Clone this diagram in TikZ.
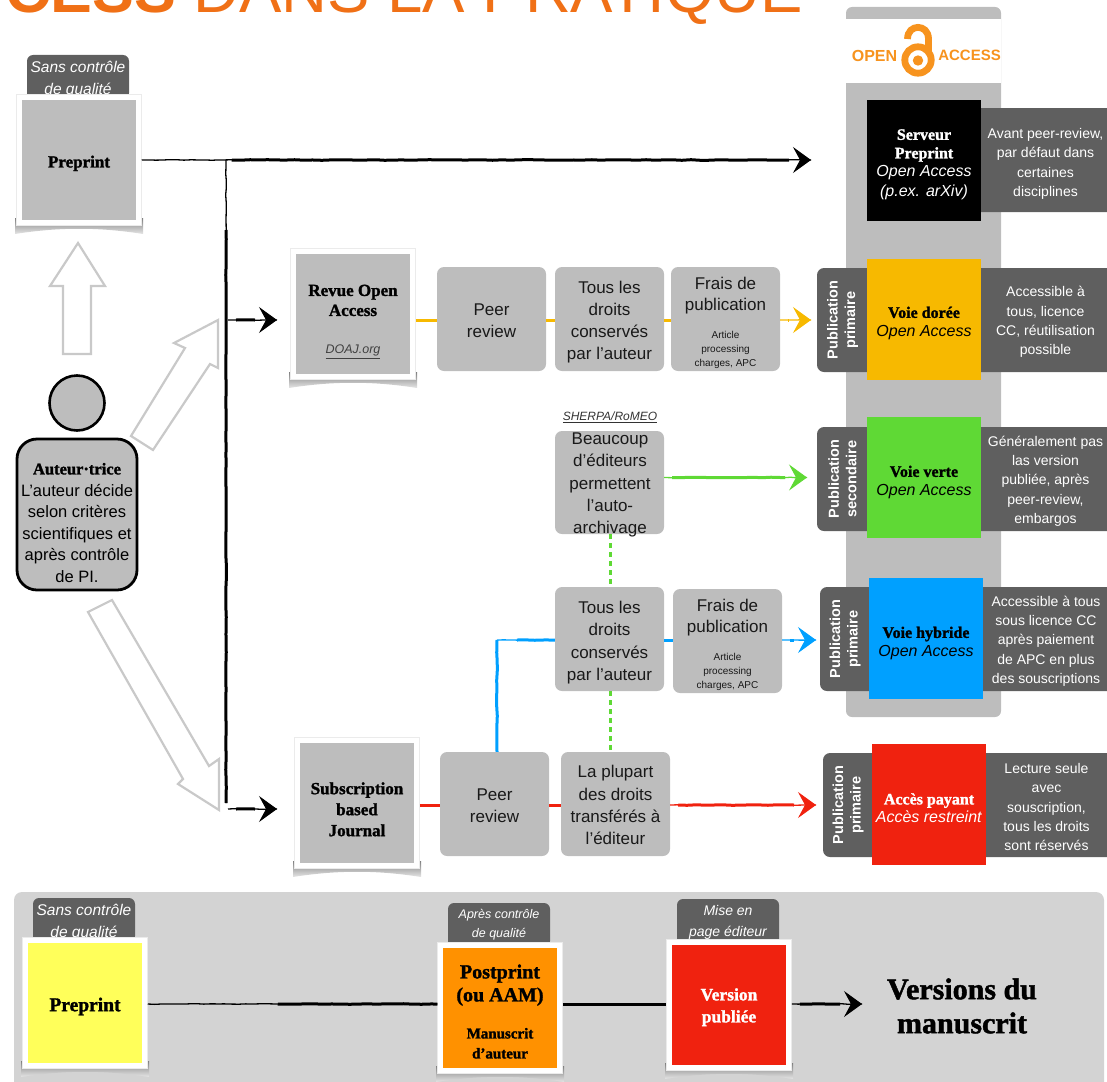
\documentclass[tikz,border=0pt]{standalone}
\usepackage{fontspec}
\usetikzlibrary{arrows.meta,decorations.pathmorphing,calc}
\setmainfont{Liberation Sans}
\newfontfamily\hdfont[FakeBold=1.5]{Liberation Serif Bold}
\newcommand\fs[2]{\fontsize{#1}{#2}\selectfont}
\newcommand\hb[1]{{\hdfont #1}}
\newcommand\dn[1]{\rule{0pt}{\dimexpr 12.5pt+2\dimexpr #1pt\relax\relax}}
\definecolor{panelgray}{HTML}{BDBDBD}
\definecolor{darktab}{HTML}{5F5F5F}
\definecolor{bandgray}{HTML}{D3D3D3}
\definecolor{titleor}{HTML}{F07016}
\definecolor{oaor}{HTML}{F7931E}
\definecolor{goldc}{HTML}{F7B900}
\definecolor{greenc}{HTML}{5FD935}
\definecolor{bluec}{HTML}{00A0FF}
\definecolor{redc}{HTML}{F0220F}
\definecolor{yellowc}{HTML}{FFFF5A}
\definecolor{orangec}{HTML}{FF9100}
\definecolor{hollow}{HTML}{C9C9C9}
\newcommand\mybx[7]{\node[#2,minimum width={(#5)*1pt-(#3)*1pt},minimum height={(#6)*1pt-(#4)*1pt},inner sep=0pt] (#1) at ({(#3+#5)/2},{(#4+#6)/2}) {#7};}
% name, inner x1 y1 x2 y2, colour, text
\newcommand\polar[7]{%
  \shade[top color=black!50,bottom color=black!10] ({#2-7},{#5-2}) -- ({#4+7},{#5-2}) -- ({#4+7},{#5+14}) .. controls ({(#2+#4)/2+20},{#5+7}) and ({(#2+#4)/2-20},{#5+7}) .. ({#2-7},{#5+14}) -- cycle;
  \mybx{#1}{framebox}{#2-5.5}{#3-5.5}{#4+5.5}{#5+5.5}{}
  \mybx{#1-in}{innerbox,fill=#6}{#2}{#3}{#4}{#5}{#7}}
\newcommand\connector[3]{\draw[brushshort=#1] #2 -- #3;}
% colour, start, end, thin lead-in length, thin tail length
\newcommand\taper[5]{%
  \draw[brushthin=#1] #2 -- #3;
  \draw[brushthick=#1] ($#2!#4pt!#3$) -- ($#3!#5pt!#2$);}
\newcommand\arrowto[3]{%
  \taper{#1}{#2}{#3}{8}{22}
  \draw[tiphead=#1] ($#3+(-8,0)$) -- #3;}
\tikzset{
  x=1pt,y=-1pt,
  procbox/.style={fill=panelgray,rounded corners=7pt,align=center,font=\fs{17}{22.2},text=black!90},
  framebox/.style={fill=white,draw=black!8,line width=.5pt},
  innerbox/.style={align=center,font=\fs{17}{20}},
  tagbox/.style={fill=darktab,rounded corners=6pt,align=center,text=white,font=\fs{15.5}{22}\itshape},
  lefttab/.style={fill=darktab,rounded corners=7pt},
  righttab/.style={fill=darktab,rounded corners=5pt,align=center,text=white,font=\fs{14}{19.3}},
  oabox/.style={align=center,font=\fs{16}{18.5}},
  sidelabel/.style={rotate=90,align=center,text=white,font=\fs{14.5}{17.5}\bfseries,inner sep=0pt},
  hollowarrow/.style={draw=hollow,fill=white,line width=2.2pt,line join=miter},
  brushthin/.style={draw=#1,line width=1.3pt,decorate,decoration={random steps,segment length=7pt,amplitude=.35pt}},
  brushthick/.style={draw=#1,line width=3pt,decorate,decoration={random steps,segment length=9pt,amplitude=.3pt}},
  brushshort/.style={draw=#1,line width=3pt},
  tiphead/.style={draw=#1,line width=1pt,-{Stealth[length=18pt,width=26pt,inset=7pt,fill=#1]}},
  dotgreen/.style={draw=greenc,line width=3pt,dash pattern=on 5pt off 4pt},
}
\begin{document}
\begin{tikzpicture}
\useasboundingbox (0,0) rectangle (1107,1081);
\clip (0,0) rectangle (1107,1081);
\pgfmathsetseed{7}
% title
\node[anchor=base west,inner sep=0pt,text=titleor,font=\fs{62.7}{70}] (title) at (5,13) {\textbf{CESS} \fs{63.5}{70}DANS LA PRATIQUE};
% OA panel
\mybx{panel}{fill=panelgray,rounded corners=6pt}{846}{7}{1001}{717}{}
\mybx{band}{fill=white}{846}{19}{1001}{83}{}
\node[text=oaor,font=\fs{16}{18}\bfseries,inner sep=0pt] (oaopen) at (874.5,55.5) {OPEN};
\node[text=oaor,font=\fs{15}{18}\bfseries,inner sep=0pt] (oaaccess) at (969.5,55.5) {ACCESS};
\draw[oaor,line width=6.8pt] (918,60) circle[radius=13.2];
\fill[oaor] (918,60.5) circle[radius=5.2];
\draw[oaor,line width=6.8pt] (907.5,39) .. controls (907.5,23.5) and (928.5,23.5) .. (928.5,39) -- (928.5,52);
% right and left tabs
\mybx{rt0}{righttab}{960}{108}{1115}{212}{}
\mybx{rt1}{righttab}{960}{268}{1115}{372}{}
\mybx{rt2}{righttab}{960}{427}{1115}{531}{}
\mybx{rt3}{righttab}{960}{587}{1115}{691}{}
\mybx{rt4}{righttab}{960}{753}{1115}{857}{}
\mybx{lt1}{lefttab}{817}{268}{890}{372}{}
\mybx{lt2}{lefttab}{817}{427}{890}{531}{}
\mybx{lt3}{lefttab}{820}{587}{890}{691}{}
\mybx{lt4}{lefttab}{823}{753}{890}{857}{}
\node[sidelabel] (sl1) at (842.5,320) {Publication\\primaire};
\node[sidelabel] (sl2) at (842.5,479) {Publication\\secondaire};
\node[sidelabel] (sl3) at (845,639) {Publication\\primaire};
\node[sidelabel] (sl4) at (848,805) {Publication\\primaire};
\node[righttab,fill=none,inner sep=0pt] (rtx0) at (1045.5,164) {Avant peer-review,\\par défaut dans\\certaines\\disciplines};
\node[righttab,fill=none,inner sep=0pt] (rtx1) at (1045.5,322) {Accessible à\\tous, licence\\CC, réutilisation\\possible};
\node[righttab,fill=none,inner sep=0pt] (rtx2) at (1045.5,481) {Généralement pas\\las version\\publiée, après\\peer-review,\\embargos};
\node[righttab,fill=none,inner sep=0pt] (rtx3) at (1046,641) {Accessible à tous\\sous licence CC\\après paiement\\de APC en plus\\des souscriptions};
\node[righttab,fill=none,inner sep=0pt] (rtx4) at (1046.5,807) {Lecture seule\\avec\\souscription,\\tous les droits\\sont réservés};
% OA coloured boxes
\mybx{srv}{oabox,fill=black,text=white}{867}{100}{981}{221}{\dn{3}\hb{Serveur}\\\hb{Preprint}\\\textit{Open Access}\\[1pt]\textit{(p.ex. arXiv)}}
\mybx{dor}{oabox,fill=goldc}{867}{259}{981}{380}{\dn{3}\hb{Voie dorée}\\\textit{Open Access}}
\mybx{ver}{oabox,fill=greenc}{867}{417}{981}{538}{\dn{4}\hb{Voie verte}\\\textit{Open Access}}
\mybx{hyb}{oabox,fill=bluec}{869}{578}{983}{699}{\dn{4}\hb{Voie hybride}\\\textit{Open Access}}
\mybx{pay}{oabox,fill=redc,text=white}{872}{744}{986}{865}{\dn{3}\hb{Accès payant}\\\textit{Accès restreint}}
% top left preprint
\mybx{tag1}{tagbox}{27}{55}{129}{99}{\dn{2}Sans contrôle\\de qualité}
\polar{prep}{22}{100}{136}{220}{panelgray}{\dn{3}\hb{Preprint}}
% hollow arrows
\draw[hollowarrow] (63,354) -- (63,286) -- (50,286) -- (78,243) -- (105,286) -- (91,286) -- (91,354) -- cycle;
\draw[hollowarrow] (218,320) -- (174,343) -- (185,348) -- (131,436) -- (153,450) -- (210,364) -- (218,368) -- cycle;
\draw[hollowarrow] (88,612) -- (112,600) -- (209,766) -- (219,759) -- (219,810) -- (178,784) -- (183,779) -- cycle;
% author
\node[draw=black,fill=panelgray,line width=2.6pt,circle,minimum size=55pt,inner sep=0pt] (head) at (77,403) {};
\mybx{author}{draw=black,fill=panelgray,line width=2.8pt,rounded corners=20pt,align=center,font=\fs{16.5}{21.6}}{17}{439}{137}{590}{\rule{0pt}{28pt}\hb{Auteur·trice}\\L’auteur décide\\selon critères\\scientifiques et\\après contrôle\\de PI.}
% journals
\polar{revue}{296}{254}{410}{374}{panelgray}{\dn{7}\hb{Revue Open}\\\hb{Access}\\[18pt]\fs{12.5}{14}\textcolor{black!75}{\textit{\underline{DOAJ.org}}}}
\polar{subs}{300}{743}{414}{863}{panelgray}{\dn{6}\hb{Subscription}\\[1pt]\hb{based}\\[1pt]\hb{Journal}}
% process boxes
\mybx{peerA}{procbox}{437}{267}{546}{371}{\dn{1.5}Peer\\review}
\mybx{droitA}{procbox}{555}{267}{664}{371}{\dn{3}Tous les\\droits\\conservés\\par l’auteur}
\mybx{fraisA}{procbox}{671}{267}{780}{371}{\dn{3.5}Frais de\\[-.5pt]publication\\[6pt]\fs{10}{13.5}Article\\[-8.5pt]\fs{10}{13.5}processing\\[-8.5pt]\fs{10}{13.5}charges, APC}
\mybx{beau}{fill=panelgray,rounded corners=7pt}{555}{431}{664}{534}{}
\node[procbox,fill=none,inner sep=0pt] (beautext) at (610,485) {Beaucoup\\d’éditeurs\\permettent\\l’auto-\\archivage};
\node[font=\fs{12}{14}\itshape,text=black!80,inner sep=0pt] (sherpa) at (610,417) {\underline{SHERPA/RoMEO}};
\mybx{droitB}{procbox}{555}{587}{664}{691}{\dn{3.5}Tous les\\droits\\conservés\\par l’auteur}
\mybx{fraisB}{procbox}{673}{589}{782}{693}{\dn{3.5}Frais de\\[-.5pt]publication\\[6pt]\fs{10}{13.5}Article\\[-8.5pt]\fs{10}{13.5}processing\\[-8.5pt]\fs{10}{13.5}charges, APC}
\mybx{peerB}{procbox}{440}{752}{549}{856}{\dn{1}Peer\\review}
\mybx{plup}{procbox}{561}{752}{670}{856}{\dn{1}La plupart\\des droits\\transférés à\\l’éditeur}
% connector rails and free ends
\coordinate (yP) at (0,160);
\coordinate (yG) at (0,320);
\coordinate (yV) at (0,477.5);
\coordinate (yB) at (0,640);
\coordinate (yR) at (0,805);
\coordinate (yM) at (0,1004);
\coordinate (xD) at (610,0);
\coordinate (xB) at (497,0);
\coordinate (endP) at (811,160);
\coordinate (endG) at (811,320);
\coordinate (endV) at (807,477.5);
\coordinate (endB) at (816,640);
\coordinate (endR) at (816,805);
\coordinate (endM) at (862,1004);
\coordinate (vtop) at (226,160);
\coordinate (vbot) at (226,803);
\coordinate (vr1) at (228,320);
\coordinate (vr2) at (228,809);
\coordinate (end1) at (277,320);
\coordinate (end2) at (277,809);
\coordinate (bendB) at (497,640);
% black
\taper{black}{(prep.east |- yP)}{(endP)}{90}{22}
\draw[tiphead=black] ($(endP)+(-8,0)$) -- (endP);
\taper{black}{(vtop)}{(vbot)}{70}{0}
\arrowto{black}{(vr1)}{(end1)}
\arrowto{black}{(vr2)}{(end2)}
% gold
\connector{goldc}{(revue.east |- yG)}{(peerA.west |- yG)}
\connector{goldc}{(peerA.east |- yG)}{(droitA.west |- yG)}
\connector{goldc}{(droitA.east |- yG)}{(fraisA.west |- yG)}
\arrowto{goldc}{(fraisA.east |- yG)}{(endG)}
% green
\arrowto{greenc}{(beau.east |- yV)}{(endV)}
\draw[dotgreen] (beau.south -| xD) -- (droitB.north -| xD);
\draw[dotgreen] (droitB.south -| xD) -- (plup.north -| xD);
% blue
\draw[brushthick=bluec] (peerB.north -| xB) -- (bendB);
\taper{bluec}{(bendB)}{(droitB.west |- yB)}{20}{0}
\connector{bluec}{(droitB.east |- yB)}{(fraisB.west |- yB)}
\arrowto{bluec}{(fraisB.east |- yB)}{(endB)}
% red
\connector{redc}{(subs.east |- yR)}{(peerB.west |- yR)}
\connector{redc}{(peerB.east |- yR)}{(plup.west |- yR)}
\arrowto{redc}{(plup.east |- yR)}{(endR)}
% bottom band
\mybx{bottom}{fill=bandgray,rounded corners=8pt}{14}{892}{1104}{1100}{}
\mybx{tag2}{tagbox}{33}{898}{135}{942}{\dn{2}Sans contrôle\\de qualité}
\polar{bprep}{28}{943}{142}{1063}{yellowc}{\dn{4}\fs{19.5}{24}\hb{Preprint}}
\mybx{tag3}{tagbox,font=\fs{12.5}{19}\itshape}{448}{903}{550}{947}{Après contrôle\\de qualité}
\polar{bpost}{443}{948}{557}{1068}{orangec}{\rule{0pt}{21pt}\fs{20}{26}\hb{Postprint}\\[3pt]\fs{20}{26}\hb{(ou AAM)}\\[17pt]\fs{15}{20}\hb{Manuscrit}\\\fs{15}{20}\hb{d’auteur}}
\mybx{tag4}{tagbox,font=\fs{14}{21}\itshape}{677}{899}{779}{945}{Mise en\\page éditeur}
\polar{bpub}{672}{945}{786}{1065}{redc}{\dn{2}\fs{17.5}{23}\textcolor{white}{\hb{Version}}\\[2pt]\fs{17.5}{23}\textcolor{white}{\hb{publiée}}}
\node[align=center,font=\fs{30}{34},inner sep=0pt] (vers) at (962,1006) {\hb{Versions du}\\\hb{manuscrit}};
\taper{black}{(bprep.east |- yM)}{(bpost.west |- yM)}{130}{0}
\connector{black}{(bpost.east |- yM)}{(bpub.west |- yM)}
\arrowto{black}{(bpub.east |- yM)}{(endM)}
\end{tikzpicture}
\end{document}
